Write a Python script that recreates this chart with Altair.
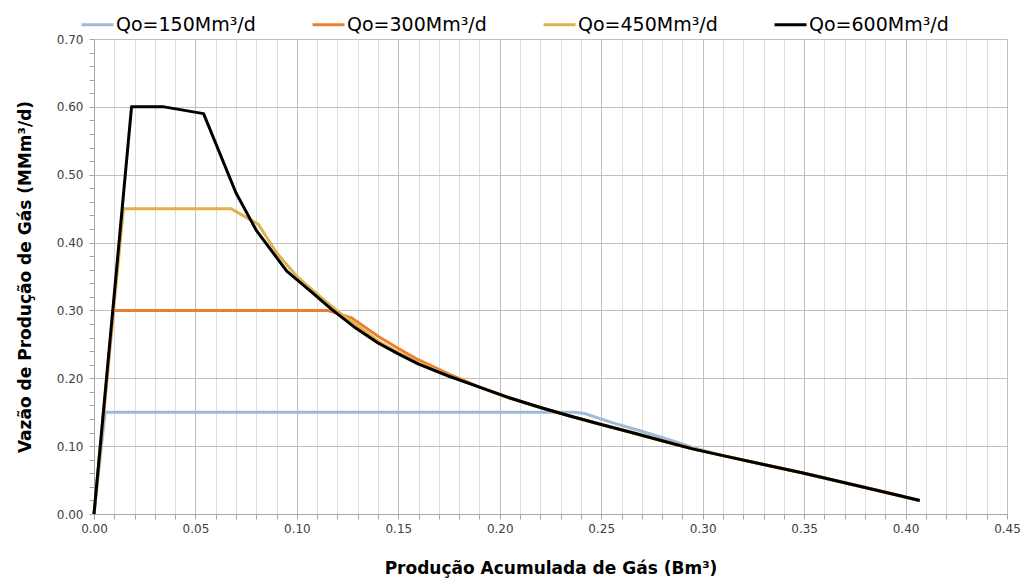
import altair as alt
import pandas as pd

series_names = ["Qo=150Mm³/d", "Qo=300Mm³/d", "Qo=450Mm³/d", "Qo=600Mm³/d"]
series_colors = ["#9DBBD9", "#ED7D31", "#DFB24F", "#000000"]

# shared decline tail
tail_x = [0.19, 0.205, 0.22, 0.235, 0.25, 0.265, 0.28, 0.295, 0.31, 0.33, 0.35, 0.37, 0.39, 0.407]
tail_y = [0.187, 0.171, 0.157, 0.144, 0.132, 0.120, 0.108, 0.096, 0.086, 0.073, 0.060, 0.046, 0.032, 0.020]

q150_x = [0.0, 0.0055, 0.237, 0.242, 0.255, 0.27, 0.285, 0.295, 0.31, 0.33, 0.35, 0.37, 0.39, 0.407]
q150_y = [0.0, 0.15, 0.15, 0.148, 0.135, 0.122, 0.108, 0.098, 0.086, 0.073, 0.060, 0.046, 0.032, 0.020]

q300_x = [0.0, 0.0095, 0.115, 0.127, 0.14, 0.15, 0.16, 0.175] + tail_x
q300_y = [0.0, 0.30, 0.30, 0.289, 0.262, 0.244, 0.227, 0.206] + tail_y

q450_x = [0.0, 0.0145, 0.0675, 0.081, 0.09, 0.10, 0.11, 0.12, 0.13, 0.14, 0.15, 0.16, 0.175] + tail_x
q450_y = [0.0, 0.45, 0.45, 0.427, 0.385, 0.350, 0.324, 0.299, 0.277, 0.255, 0.238, 0.223, 0.204] + tail_y

q600_x = [0.0, 0.0185, 0.0345, 0.054, 0.070, 0.080, 0.095, 0.108, 0.117, 0.129, 0.14, 0.15, 0.16, 0.175] + tail_x
q600_y = [0.0, 0.60, 0.60, 0.59, 0.473, 0.418, 0.358, 0.325, 0.302, 0.274, 0.252, 0.236, 0.221, 0.203] + tail_y

x_ticks = [round(i * 0.01, 2) for i in range(46)]
y_ticks = [round(i * 0.02, 2) for i in range(36)]

rows = []
for name, xs, ys in zip(series_names,
                        [q150_x, q300_x, q450_x, q600_x],
                        [q150_y, q300_y, q450_y, q600_y]):
    for i, (xv, yv) in enumerate(zip(xs, ys)):
        rows.append({"serie": name, "x": xv, "y": yv, "i": i})
df = pd.DataFrame(rows)

FONT = "DejaVu Sans"

x_axis = alt.Axis(
    values=x_ticks,
    labelExpr="round(datum.value*100) % 5 === 0 ? format(datum.value, '.2f') : ''",
    labelOverlap=False,
    labelFlush=False,
    labelFont=FONT,
    labelFontSize=12,
    labelColor="#404040",
    labelPadding=4,
    tickSize=5,
    tickColor="#A6A6A6",
    domainColor="#A6A6A6",
    gridColor={"condition": {"test": "round(datum.value*100) % 5 === 0", "value": "#BFBFBF"}, "value": "#DDDDDD"},
    title="Produção Acumulada de Gás (Bm³)",
    titleFont=FONT,
    titleFontSize=17,
    titleFontWeight="bold",
    titleColor="#000000",
    titlePadding=26,
)

y_axis = alt.Axis(
    values=y_ticks,
    labelExpr="round(datum.value*100) % 10 === 0 ? format(datum.value, '.2f') : ''",
    labelOverlap=False,
    labelFlush=False,
    labelFont=FONT,
    labelFontSize=12,
    labelColor="#404040",
    labelPadding=6,
    tickSize=5,
    tickColor="#A6A6A6",
    domainColor="#A6A6A6",
    gridColor="#BFBFBF",
    gridOpacity={"condition": {"test": "round(datum.value*100) % 10 === 0", "value": 1}, "value": 0},
    title="Vazão de Produção de Gás (MMm³/d)",
    titleFont=FONT,
    titleFontSize=17,
    titleFontWeight="bold",
    titleColor="#000000",
    titlePadding=22,
)

chart = alt.Chart(df).mark_line(strokeWidth=3, strokeJoin="round").encode(
    x=alt.X("x:Q", scale=alt.Scale(domain=[0, 0.45], nice=False, zero=False), axis=x_axis),
    y=alt.Y("y:Q", scale=alt.Scale(domain=[0, 0.70], nice=False, zero=False), axis=y_axis),
    color=alt.Color(
        "serie:N",
        scale=alt.Scale(domain=series_names, range=series_colors),
        legend=alt.Legend(
            orient="none",
            legendX=-14,
            legendY=-32,
            direction="horizontal",
            title=None,
            symbolType="stroke",
            symbolSize=1024,
            symbolStrokeWidth=3,
            labelFont=FONT,
            labelFontSize=19,
            labelColor="#000000",
            labelOffset=1,
            columnPadding=50,
            labelLimit=300,
        ),
    ),
    order="i:Q",
).properties(
    width=913,
    height=475,
    autosize=alt.AutoSizeParams(type="none"),
    padding={"left": 94, "top": 39, "right": 15, "bottom": 72},
).configure_view(strokeWidth=0).configure(background="white")

chart.save("out.html", embed_options={"renderer": "svg", "actions": False})
